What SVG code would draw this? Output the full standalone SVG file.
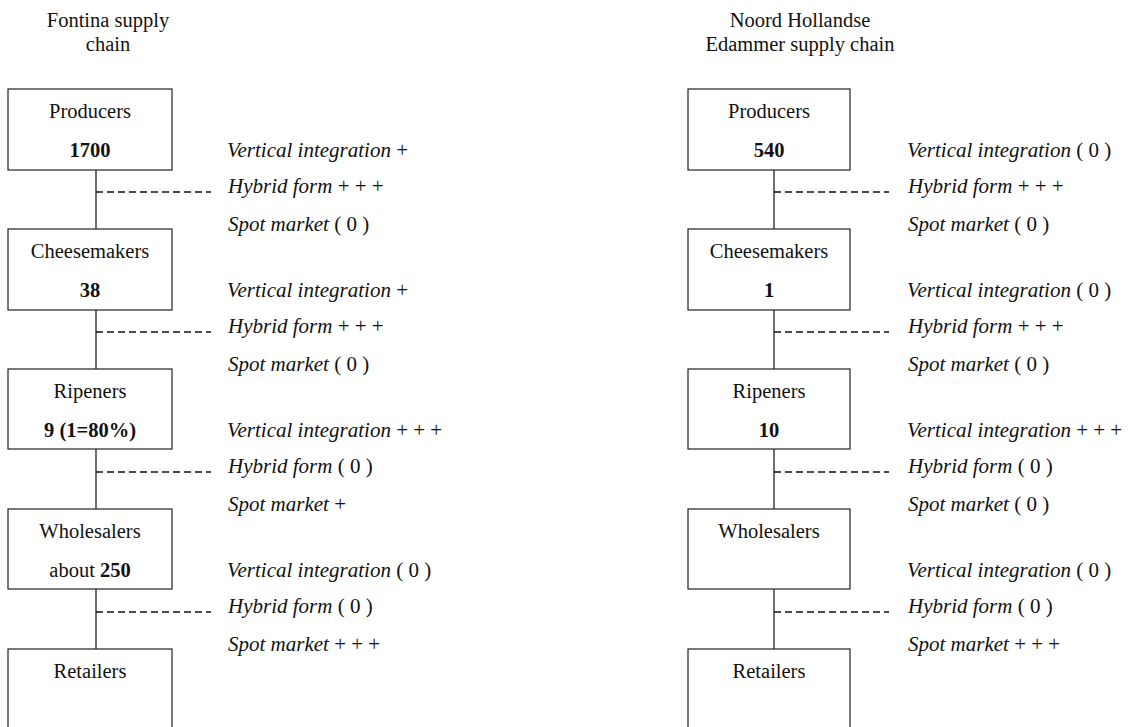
<svg xmlns="http://www.w3.org/2000/svg" width="1137" height="727" viewBox="0 0 1137 727">
<style>
text{font-family:"Liberation Serif","Times New Roman",serif;font-size:20.5px;fill:#111}
.c{text-anchor:middle}
.b{font-weight:bold}
.i{font-style:italic}
.lb{font-size:21px}
.box{fill:#fff;stroke:#222;stroke-width:1.2}
.ln{stroke:#222;stroke-width:1.3;fill:none}
.d{stroke:#111;stroke-width:1.3;stroke-dasharray:7 4;fill:none}
</style>
<rect width="1137" height="727" fill="#fff"/>
<g id="titles">
<text class="c" x="108" y="27">Fontina supply</text>
<text class="c" x="108" y="51">chain</text>
<text class="c" x="800" y="27">Noord Hollandse</text>
<text class="c" x="800" y="51">Edammer supply chain</text>
</g>
<g id="connectors">
<line class="ln" x1="96" y1="170" x2="96" y2="229"/>
<line class="ln" x1="96" y1="310" x2="96" y2="369"/>
<line class="ln" x1="96" y1="449" x2="96" y2="509"/>
<line class="ln" x1="96" y1="589" x2="96" y2="649"/>
<line class="d" x1="96" y1="192" x2="211" y2="192"/>
<line class="d" x1="96" y1="332" x2="211" y2="332"/>
<line class="d" x1="96" y1="472" x2="211" y2="472"/>
<line class="d" x1="96" y1="612" x2="211" y2="612"/>
<line class="ln" x1="774" y1="170" x2="774" y2="229"/>
<line class="ln" x1="774" y1="310" x2="774" y2="369"/>
<line class="ln" x1="774" y1="449" x2="774" y2="509"/>
<line class="ln" x1="774" y1="589" x2="774" y2="649"/>
<line class="d" x1="774" y1="192" x2="889" y2="192"/>
<line class="d" x1="774" y1="332" x2="889" y2="332"/>
<line class="d" x1="774" y1="472" x2="889" y2="472"/>
<line class="d" x1="774" y1="612" x2="889" y2="612"/>
</g>
<g id="f-producers"><rect class="box" x="8" y="89" width="164" height="81"/><text class="c" x="90" y="118">Producers</text><text class="c b" x="90" y="157">1700</text></g>
<g id="f-cheesemakers"><rect class="box" x="8" y="229" width="164" height="81"/><text class="c" x="90" y="258">Cheesemakers</text><text class="c b" x="90" y="297">38</text></g>
<g id="f-ripeners"><rect class="box" x="8" y="369" width="164" height="80"/><text class="c" x="90" y="398">Ripeners</text><text class="c b" x="90" y="437">9 (1=80%)</text></g>
<g id="f-wholesalers"><rect class="box" x="8" y="509" width="164" height="80"/><text class="c" x="90" y="538">Wholesalers</text><text class="c" x="90" y="577">about <tspan class="b">250</tspan></text></g>
<g id="f-retailers"><rect class="box" x="8" y="649" width="164" height="90"/><text class="c" x="90" y="678">Retailers</text></g>
<g id="n-producers"><rect class="box" x="688" y="89" width="162" height="81"/><text class="c" x="769" y="118">Producers</text><text class="c b" x="769" y="157">540</text></g>
<g id="n-cheesemakers"><rect class="box" x="688" y="229" width="162" height="81"/><text class="c" x="769" y="258">Cheesemakers</text><text class="c b" x="769" y="297">1</text></g>
<g id="n-ripeners"><rect class="box" x="688" y="369" width="162" height="80"/><text class="c" x="769" y="398">Ripeners</text><text class="c b" x="769" y="437">10</text></g>
<g id="n-wholesalers"><rect class="box" x="688" y="509" width="162" height="80"/><text class="c" x="769" y="538">Wholesalers</text></g>
<g id="n-retailers"><rect class="box" x="688" y="649" width="162" height="90"/><text class="c" x="769" y="678">Retailers</text></g>
<g id="f-labels" class="lb">
<text class="lb" x="227" y="157"><tspan class="i">Vertical integration</tspan> +</text>
<text class="lb" x="228" y="193"><tspan class="i">Hybrid form</tspan> + + +</text>
<text class="lb" x="228" y="231"><tspan class="i">Spot market</tspan> ( 0 )</text>
<text class="lb" x="227" y="297"><tspan class="i">Vertical integration</tspan> +</text>
<text class="lb" x="228" y="333"><tspan class="i">Hybrid form</tspan> + + +</text>
<text class="lb" x="228" y="371"><tspan class="i">Spot market</tspan> ( 0 )</text>
<text class="lb" x="227" y="437"><tspan class="i">Vertical integration</tspan> + + +</text>
<text class="lb" x="228" y="473"><tspan class="i">Hybrid form</tspan> ( 0 )</text>
<text class="lb" x="228" y="511"><tspan class="i">Spot market</tspan> +</text>
<text class="lb" x="227" y="577"><tspan class="i">Vertical integration</tspan> ( 0 )</text>
<text class="lb" x="228" y="613"><tspan class="i">Hybrid form</tspan> ( 0 )</text>
<text class="lb" x="228" y="651"><tspan class="i">Spot market</tspan> + + +</text>
</g>
<g id="n-labels" class="lb">
<text class="lb" x="907" y="157"><tspan class="i">Vertical integration</tspan> ( 0 )</text>
<text class="lb" x="908" y="193"><tspan class="i">Hybrid form</tspan> + + +</text>
<text class="lb" x="908" y="231"><tspan class="i">Spot market</tspan> ( 0 )</text>
<text class="lb" x="907" y="297"><tspan class="i">Vertical integration</tspan> ( 0 )</text>
<text class="lb" x="908" y="333"><tspan class="i">Hybrid form</tspan> + + +</text>
<text class="lb" x="908" y="371"><tspan class="i">Spot market</tspan> ( 0 )</text>
<text class="lb" x="907" y="437"><tspan class="i">Vertical integration</tspan> + + +</text>
<text class="lb" x="908" y="473"><tspan class="i">Hybrid form</tspan> ( 0 )</text>
<text class="lb" x="908" y="511"><tspan class="i">Spot market</tspan> ( 0 )</text>
<text class="lb" x="907" y="577"><tspan class="i">Vertical integration</tspan> ( 0 )</text>
<text class="lb" x="908" y="613"><tspan class="i">Hybrid form</tspan> ( 0 )</text>
<text class="lb" x="908" y="651"><tspan class="i">Spot market</tspan> + + +</text>
</g>
</svg>
